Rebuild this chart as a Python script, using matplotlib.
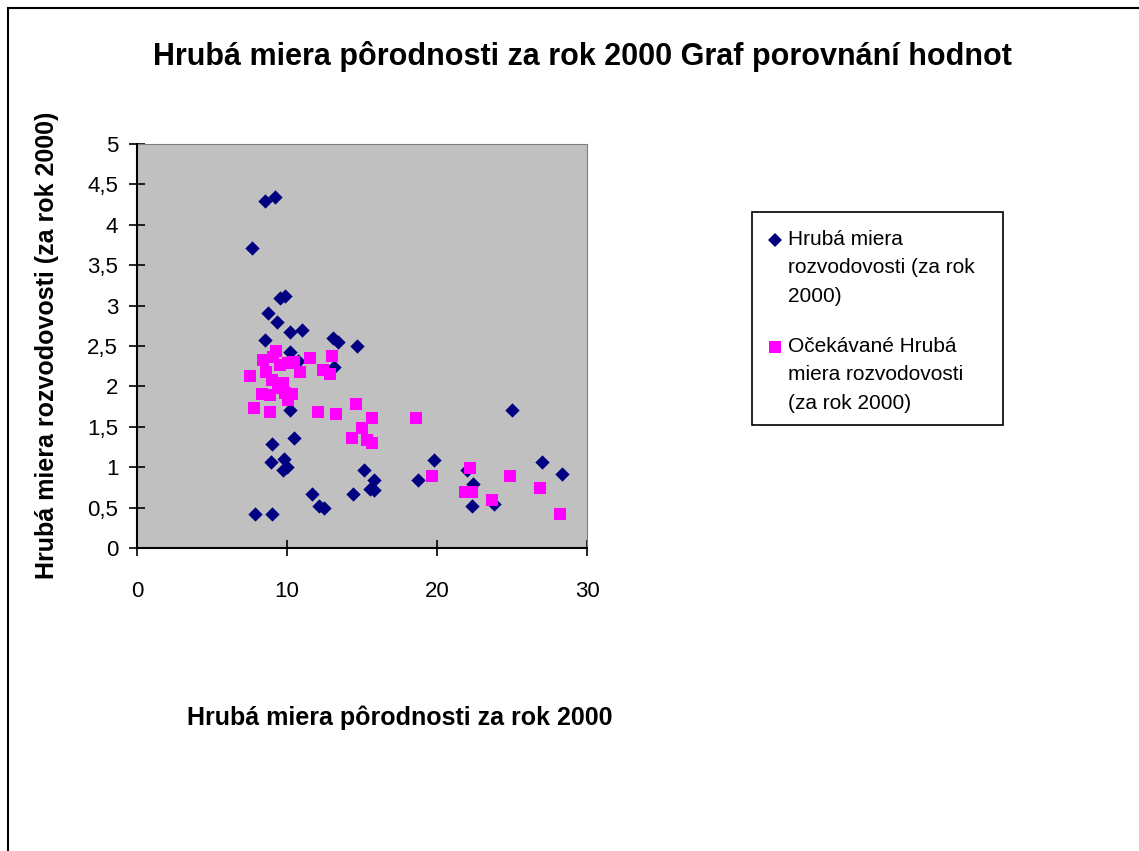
import matplotlib.pyplot as plt
from matplotlib.patches import Rectangle
from matplotlib.lines import Line2D

plt.rcParams['font.family'] = ['Liberation Sans', 'DejaVu Sans']

# Hrubá miera pôrodnosti (x) vs. Hrubá miera rozvodovosti (y)
real_x = [7.67, 8.53, 9.2, 7.87, 9.0, 8.53, 8.73, 9.53, 9.87, 9.33, 10.2, 11.0,
          13.07, 13.4, 14.67, 13.1, 10.2, 10.7, 9.0, 8.93, 9.8, 9.73, 10.0, 10.47,
          10.2, 11.67, 12.13, 12.47, 14.4, 15.13, 15.53, 15.8, 15.8, 18.73, 19.8,
          22.0, 22.4, 22.33, 23.8, 25.0, 27.0, 28.33]
real_y = [3.71, 4.29, 4.35, 0.42, 0.42, 2.57, 2.91, 3.09, 3.12, 2.80, 2.67, 2.70,
          2.60, 2.55, 2.50, 2.24, 2.42, 2.32, 1.29, 1.06, 1.10, 0.97, 1.00, 1.36,
          1.71, 0.67, 0.52, 0.49, 0.67, 0.97, 0.73, 0.84, 0.72, 0.84, 1.09,
          0.97, 0.79, 0.52, 0.54, 1.71, 1.06, 0.92]

exp_x = [18.6, 19.67, 22.2, 21.87, 22.33, 23.67, 24.87, 26.87, 28.2,
         7.53, 7.8, 8.87, 8.4, 9.27, 9.07, 8.6, 9.0, 8.33, 8.87, 9.73, 9.53,
         10.07, 10.47, 10.87, 10.07, 10.33, 10.07, 11.53, 13.0, 12.4, 12.87,
         12.07, 13.27, 14.6, 15.67, 15.0, 14.33, 15.33, 15.67, 9.4, 9.87]
exp_y = [1.61, 0.89, 0.99, 0.69, 0.69, 0.59, 0.89, 0.74, 0.42,
         2.13, 1.73, 1.68, 2.33, 2.44, 2.37, 2.18, 2.08, 1.91, 1.89, 2.04, 2.26,
         2.29, 2.30, 2.18, 1.91, 1.90, 1.83, 2.35, 2.38, 2.20, 2.15,
         1.68, 1.66, 1.78, 1.61, 1.48, 1.36, 1.34, 1.30, 1.98, 1.92]

series_labels = ['Hrubá miera\nrozvodovosti (za rok\n2000)',
                 'Očekávané Hrubá\nmiera rozvodovosti\n(za rok 2000)']

xticks = [0, 10, 20, 30]
yticks = [0, 0.5, 1, 1.5, 2, 2.5, 3, 3.5, 4, 4.5, 5]
ytick_labels = ['0', '0,5', '1', '1,5', '2', '2,5', '3', '3,5', '4', '4,5', '5']

W, H = 1139, 851
fig = plt.figure(figsize=(W / 100, H / 100), dpi=100)
fig.patches.append(Rectangle((8 / W, -0.01), 1.1, 1 - 8 / H + 0.01,
                             transform=fig.transFigure, fill=False,
                             edgecolor='black', linewidth=1.5))

ax = fig.add_axes([137 / W, 1 - 548 / H, 450 / W, 404 / H])
ax.set_facecolor('#C0C0C0')

ax.scatter(real_x, real_y, marker='D', s=7.3 ** 2, color='#000080', linewidths=0, zorder=3)
ax.scatter(exp_x, exp_y, marker='s', s=9 ** 2, color='#FF00FF', linewidths=0, zorder=3)

ax.set_xlim(0, 30)
ax.set_ylim(0, 5)
ax.set_xticks(xticks)
ax.set_yticks(yticks)
ax.set_yticklabels(ytick_labels)
ax.tick_params(labelsize=16, direction='inout', length=11, width=1.2, color='black')
ax.tick_params(axis='x', pad=18)
ax.tick_params(axis='y', pad=8)
for s in ['top', 'right']:
    ax.spines[s].set_color('#808080')
for s in ['left', 'bottom']:
    ax.spines[s].set_color('black')
    ax.spines[s].set_linewidth(1.5)
    ax.spines[s].set_zorder(4)

fig.text(582 / W, 1 - 56 / H, 'Hrubá miera pôrodnosti za rok 2000 Graf porovnání hodnot',
         ha='center', va='center', fontsize=22, fontweight='bold')
fig.text(400 / W, 1 - 718 / H, 'Hrubá miera pôrodnosti za rok 2000',
         ha='center', va='center', fontsize=18, fontweight='bold')
fig.text(47 / W, 1 - 345 / H, 'Hrubá miera rozvodovosti (za rok 2000)',
         ha='center', va='center', fontsize=18, fontweight='bold', rotation=90)

# legend drawn by hand (Excel style: marker beside first line)
fig.patches.append(Rectangle((752 / W, 1 - 425 / H), 251 / W, 213 / H,
                             transform=fig.transFigure, facecolor='white',
                             edgecolor='black', linewidth=1.2))
leg_markers = [('D', 7.3, '#000080', 240), ('s', 9, '#FF00FF', 347)]
for (mk, ms, col, ypx), lab in zip(leg_markers, series_labels):
    fig.add_artist(Line2D([775 / W], [1 - ypx / H], marker=mk, markersize=ms,
                          color=col, markeredgewidth=0, linestyle='none',
                          transform=fig.transFigure))
    fig.text(788 / W, 1 - (ypx - 10) / H, lab, ha='left', va='top',
             fontsize=15, linespacing=1.62)

fig.savefig('out.png', dpi=100)
